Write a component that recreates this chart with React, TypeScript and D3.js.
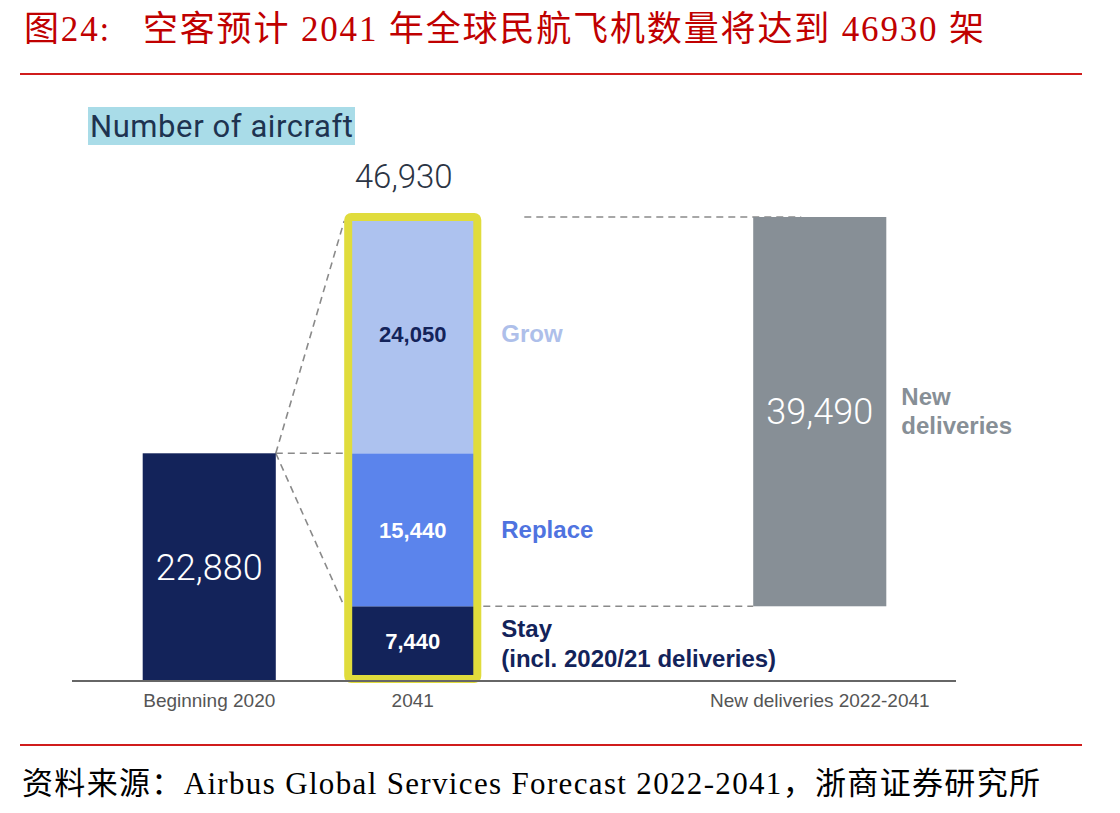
import { useEffect, useRef } from "react"
import * as d3 from "d3"

// chart values
const categories = ["Beginning 2020", "2041", "", "New deliveries 2022-2041"]
const beginningValue = 22880
const segmentNames = ["Stay", "Replace", "Grow"]
const segmentValues = [7440, 15440, 24050]
const totalValue = 46930
const newDeliveriesValue = 39490

const titleText = "图24:   空客预计 2041 年全球民航飞机数量将达到 46930 架"
const sourceText = "资料来源：Airbus Global Services Forecast 2022-2041，浙商证券研究所"

const NAVY = "#13235a"
const segmentColors = ["#13235a", "#5b84ec", "#adc2ef"]
const segmentLabelColors = ["#13235a", "#4f73e0", "#aebfea"]
const segmentValueColors = ["#ffffff", "#ffffff", "#13235a"]
const SANS = "'Liberation Sans', Arial, Helvetica, sans-serif"
const LIGHT = "Roboto, 'Liberation Sans', sans-serif"
const SERIF = "'Liberation Serif', 'Times New Roman', 'Noto Sans CJK SC', serif"

export default function App() {
  const svgRef = useRef<SVGSVGElement>(null)

  useEffect(() => {
    document.body.style.margin = "0"
    if (!svgRef.current) return
    const svg = d3.select(svgRef.current)
    svg.selectAll("*").remove()

    const W = 1120
    const H = 813

    // 4 slots, the third one left empty as a gap before the delivery bar
    const x = d3.scaleBand<string>()
      .domain(categories)
      .range([73, 956])
      .paddingInner(0.346)
      .paddingOuter(0.3425)
    const bw = x.bandwidth()

    const y = d3.scaleLinear().domain([0, totalValue]).range([680, 215])
    const fmt = d3.format(",")

    svg.append("rect").attr("width", W).attr("height", H).attr("fill", "#fff")

    // title + red rules
    svg.append("text")
      .attr("x", 24).attr("y", 41)
      .style("white-space", "pre")
      .attr("font-family", SERIF)
      .attr("font-size", 35)
      .attr("fill", "#c00000")
      .attr("textLength", 960)
      .attr("lengthAdjust", "spacing")
      .text(titleText)

    svg.append("line").attr("x1", 20).attr("x2", 1082).attr("y1", 74).attr("y2", 74)
      .attr("stroke", "#d01c1c").attr("stroke-width", 2)
    svg.append("line").attr("x1", 20).attr("x2", 1082).attr("y1", 745).attr("y2", 745)
      .attr("stroke", "#d01c1c").attr("stroke-width", 2)

    svg.append("text")
      .attr("x", 22).attr("y", 794)
      .attr("font-family", SERIF)
      .attr("font-size", 31)
      .attr("fill", "#000")
      .attr("textLength", 1018)
      .attr("lengthAdjust", "spacing")
      .text(sourceText)

    // "Number of aircraft" header
    svg.append("rect").attr("x", 88).attr("y", 107).attr("width", 267).attr("height", 38)
      .attr("fill", "#a9dce8")
    svg.append("text")
      .attr("x", 90).attr("y", 137)
      .attr("font-family", LIGHT)
      .attr("font-size", 31)
      .attr("fill", "#1e3350")
      .attr("textLength", 263)
      .text("Number of aircraft")

    const xBeg = x(categories[0])!
    const x41 = x(categories[1])!
    const xNew = x(categories[3])!

    // dashed connectors
    const dash = svg.append("g")
      .attr("stroke", "#8a8a8a")
      .attr("stroke-width", 1.6)
      .attr("stroke-dasharray", "7,5")
      .attr("fill", "none")
    dash.append("line")
      .attr("x1", xBeg + bw).attr("y1", y(beginningValue))
      .attr("x2", x41 - 2).attr("y2", y(totalValue) + 6)
    dash.append("line")
      .attr("x1", xBeg + bw).attr("y1", y(beginningValue))
      .attr("x2", x41 - 2).attr("y2", y(beginningValue))
    dash.append("line")
      .attr("x1", xBeg + bw).attr("y1", y(beginningValue))
      .attr("x2", x41 - 2).attr("y2", y(segmentValues[0]))
    dash.append("line")
      .attr("x1", x41 + bw + 4).attr("y1", y(segmentValues[0]))
      .attr("x2", xNew).attr("y2", y(segmentValues[0]))
    dash.append("line")
      .attr("x1", x41 + bw + 45).attr("y1", y(totalValue) + 2)
      .attr("x2", xNew + 48).attr("y2", y(totalValue) + 2)

    // Beginning 2020 bar
    svg.append("rect")
      .attr("x", xBeg).attr("width", bw)
      .attr("y", y(beginningValue)).attr("height", y(0) - y(beginningValue))
      .attr("fill", NAVY)
    svg.append("text")
      .attr("x", xBeg + bw / 2).attr("y", (y(beginningValue) + y(0)) / 2 + 13)
      .attr("text-anchor", "middle")
      .attr("font-family", LIGHT).attr("font-weight", 300)
      .attr("font-size", 36).attr("fill", "#ffffff")
      .text(fmt(beginningValue))

    // 2041 stacked bar
    const ends = Array.from(d3.cumsum(segmentValues))
    const starts = ends.map((e, i) => e - segmentValues[i])
    svg.append("g").selectAll("rect")
      .data(segmentValues)
      .join("rect")
      .attr("x", x41).attr("width", bw)
      .attr("y", (_d, i) => y(ends[i]))
      .attr("height", (d) => y(0) - y(d))
      .attr("fill", (_d, i) => segmentColors[i])

    // yellow highlight frame
    svg.append("rect")
      .attr("x", x41 + 2).attr("width", bw - 4)
      .attr("y", y(totalValue) + 2).attr("height", y(0) - 1 - (y(totalValue) + 2))
      .attr("rx", 3)
      .attr("fill", "none")
      .attr("stroke", "#e0dc3c")
      .attr("stroke-width", 8)

    svg.append("g").selectAll("text")
      .data(segmentValues)
      .join("text")
      .attr("x", x41 + bw / 2)
      .attr("y", (_d, i) => {
        const top = y(ends[i])
        const bottom = i === 0 ? y(0) - 5 : y(starts[i])
        return (top + bottom) / 2 + 8
      })
      .attr("text-anchor", "middle")
      .attr("font-family", SANS).attr("font-weight", 700)
      .attr("font-size", 22)
      .attr("fill", (_d, i) => segmentValueColors[i])
      .text((d) => fmt(d))

    // segment names to the right
    const labelX = x41 + bw + 22
    svg.append("g").selectAll("text")
      .data(segmentNames)
      .join("text")
      .attr("x", labelX)
      .attr("y", (_d, i) => {
        const top = y(ends[i])
        const bottom = y(starts[i])
        return i === 0 ? y(ends[0]) + 31 : (top + bottom) / 2 + 8
      })
      .attr("font-family", SANS).attr("font-weight", 700)
      .attr("font-size", 24)
      .attr("fill", (_d, i) => segmentLabelColors[i])
      .text((d) => d)
    svg.append("text")
      .attr("x", labelX).attr("y", y(ends[0]) + 61)
      .attr("font-family", SANS).attr("font-weight", 700)
      .attr("font-size", 24)
      .attr("fill", segmentLabelColors[0])
      .text("(incl. 2020/21 deliveries)")

    // total above 2041 bar
    svg.append("text")
      .attr("x", x41 + bw / 2 - 9).attr("y", 188)
      .attr("text-anchor", "middle")
      .attr("font-family", LIGHT).attr("font-weight", 300)
      .attr("font-size", 33).attr("fill", "#2b3444")
      .text(fmt(totalValue))

    // New deliveries bar (floating)
    svg.append("rect")
      .attr("x", xNew).attr("width", bw)
      .attr("y", y(totalValue) + 2)
      .attr("height", y(segmentValues[0]) - y(totalValue) - 2)
      .attr("fill", "#878f96")
    svg.append("text")
      .attr("x", xNew + bw / 2).attr("y", (y(totalValue) + y(segmentValues[0])) / 2 + 13)
      .attr("text-anchor", "middle")
      .attr("font-family", LIGHT).attr("font-weight", 300)
      .attr("font-size", 36).attr("fill", "#ffffff")
      .text(fmt(newDeliveriesValue))
    const nd = svg.append("text")
      .attr("x", xNew + bw + 15).attr("y", 405)
      .attr("font-family", SANS).attr("font-weight", 700)
      .attr("font-size", 24).attr("fill", "#878f96")
    nd.append("tspan").attr("x", xNew + bw + 15).text("New")
    nd.append("tspan").attr("x", xNew + bw + 15).attr("dy", 29).text("deliveries")

    // baseline + category labels
    svg.append("line")
      .attr("x1", 72).attr("x2", 956)
      .attr("y1", y(0) + 1).attr("y2", y(0) + 1)
      .attr("stroke", "#666").attr("stroke-width", 2)

    svg.append("g").selectAll("text")
      .data(categories.filter((c) => c !== ""))
      .join("text")
      .attr("x", (d) => x(d)! + bw / 2)
      .attr("y", 707)
      .attr("text-anchor", "middle")
      .attr("font-family", SANS)
      .attr("font-size", 19)
      .attr("fill", "#555")
      .text((d) => d)
  }, [])

  return <svg ref={svgRef} width={1120} height={813} style={{ display: "block" }} />
}
